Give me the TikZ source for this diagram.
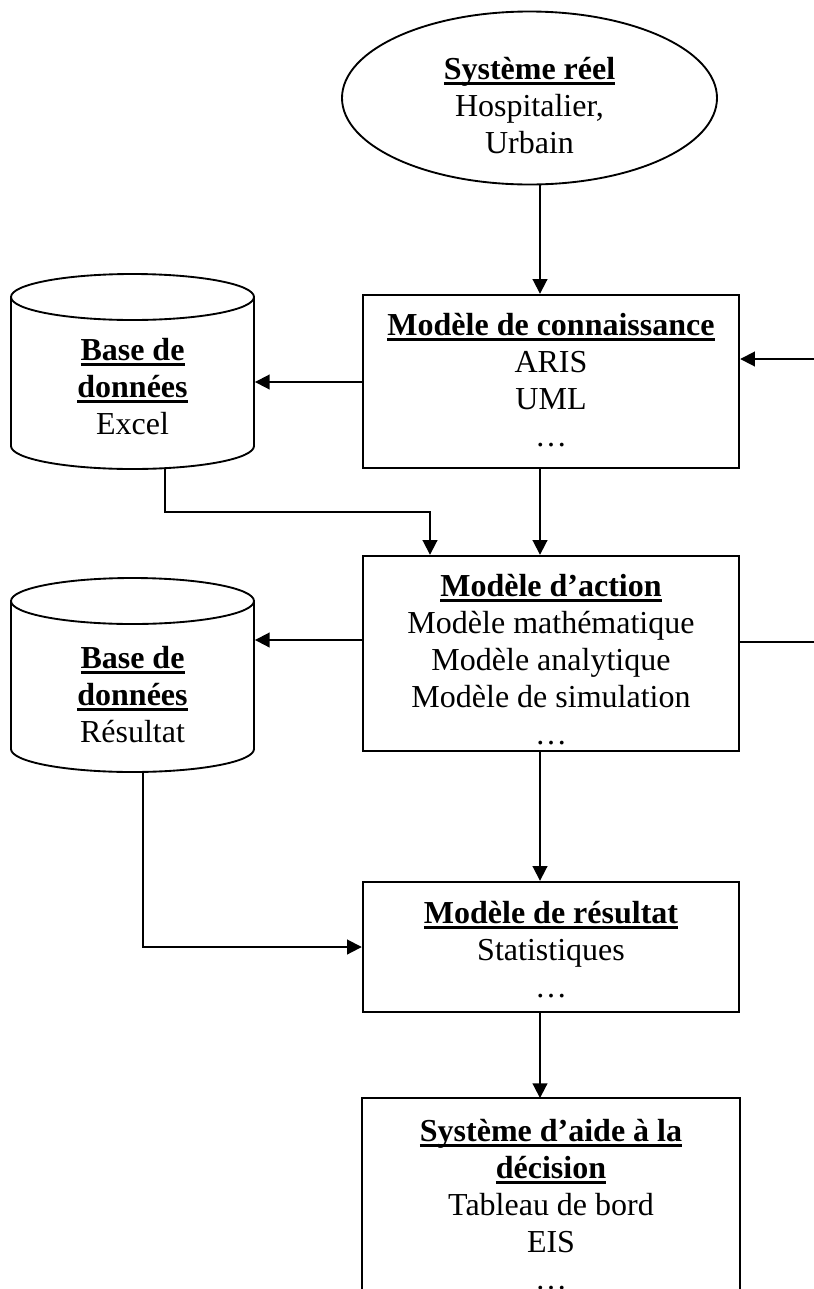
\documentclass[tikz,border=0pt]{standalone}
\usepackage{fontspec}
\setmainfont{Liberation Serif}
\usetikzlibrary{shapes.geometric,arrows.meta}
\newcommand\hdr[1]{\setbox0\hbox{\bfseries #1}\leavevmode\rlap{\rule[-4.3pt]{\wd0}{2.3pt}}\box0}
\newcommand\fst{\rule{0pt}{15pt}}
\begin{document}
\begin{tikzpicture}[x=0.75pt,y=0.75pt,
  line width=1.4pt,
  box/.style={draw, line width=1.8pt, minimum width=282pt, inner sep=0},
  hidden/.style={inner sep=0},
  txt/.style={align=center, anchor=north, inner sep=0, font=\fontsize{24}{27.75}\selectfont},
  arr/.style={-{Triangle[length=11pt,width=11pt]}, line width=1.4pt},
  cyl/.style={line width=1.4pt}
]
\useasboundingbox (0,0) rectangle (814,-1289);

% top ellipse
\node[draw, ellipse, line width=1.4pt, minimum width=281.25pt, minimum height=129.75pt, inner sep=0] (sys) at (529.5,-98) {};
\node[txt] (systxt) at (529.5,-56) {\fst\hdr{Système réel}\\Hospitalier,\\Urbain};

% boxes
\node[box, minimum height=129.75pt] (b1) at (551,-381.5) {};
\node[txt] (b1txt) at (551,-312) {\fst\hdr{Modèle de connaissance}\\ARIS\\UML\\…};

\node[box, minimum height=146.25pt] (b2) at (551,-653.5) {};
\node[txt] (b2txt) at (551,-573) {\fst\hdr{Modèle d’action}\\Modèle mathématique\\Modèle analytique\\Modèle de simulation\\…};

\node[box, minimum height=97.5pt] (b3) at (551,-947) {};
\node[txt] (b3txt) at (551,-900) {\fst\hdr{Modèle de résultat}\\Statistiques\\…};

\node[hidden, minimum width=282pt, minimum height=150.75pt] (b4) at (551,-1199.5) {};
\draw[line width=1.8pt] (b4.south west) -- (b4.north west) -- (b4.north east) -- (b4.south east);
\node[txt] (b4txt) at (551,-1118) {\fst\hdr{Système d’aide à la}\\\hdr{décision}\\Tableau de bord\\EIS\\…};

% cylinders
\node[hidden, minimum width=182.25pt, minimum height=145.5pt] (db1) at (132.5,-371) {};
\draw[cyl] (11,-297) -- (11,-446) arc[start angle=180,end angle=360,x radius=91.125pt,y radius=17.25pt] -- (254,-297);
\draw[cyl] (132.5,-297) ellipse [x radius=91.125pt, y radius=17.25pt];
\node[txt] (db1txt) at (132.5,-337) {\fst\hdr{Base de}\\\hdr{données}\\Excel};

\node[hidden, minimum width=182.25pt, minimum height=146.25pt] (db2) at (132.5,-674.5) {};
\draw[cyl] (11,-601) -- (11,-749) arc[start angle=180,end angle=360,x radius=91.125pt,y radius=17.25pt] -- (254,-601);
\draw[cyl] (132.5,-601) ellipse [x radius=91.125pt, y radius=17.25pt];
\node[txt] (db2txt) at (132.5,-645) {\fst\hdr{Base de}\\\hdr{données}\\Résultat};

% helper coordinates
\coordinate (col) at (540,0);
\coordinate (rin) at (814,-359);
\coordinate (rout) at (814,-642);
\coordinate (a1) at (0,-382);
\coordinate (a2) at (0,-640);
\coordinate (c1) at (165,-512);
\coordinate (c1b) at (430,-512);
\coordinate (c2) at (143,-947);

% connectors
\draw[arr] (sys.south -| col) -- (b1.north -| col);
\draw[arr] (b1.south -| col) -- (b2.north -| col);
\draw[arr] (b2.south -| col) -- (b3.north -| col);
\draw[arr] (b3.south -| col) -- (b4.north -| col);
\draw[arr] (rin) -- (rin -| b1.east);
\draw (b2.east |- rout) -- (rout);
\draw[arr] (b1.west |- a1) -- (db1.east |- a1);
\draw[arr] (b2.west |- a2) -- (db2.east |- a2);
\draw[arr] (db1.south -| c1) -- (c1) -- (c1b) -- (b2.north -| c1b);
\draw[arr] (db2.south -| c2) -- (c2) -- (b3.west |- c2);
\end{tikzpicture}
\end{document}
